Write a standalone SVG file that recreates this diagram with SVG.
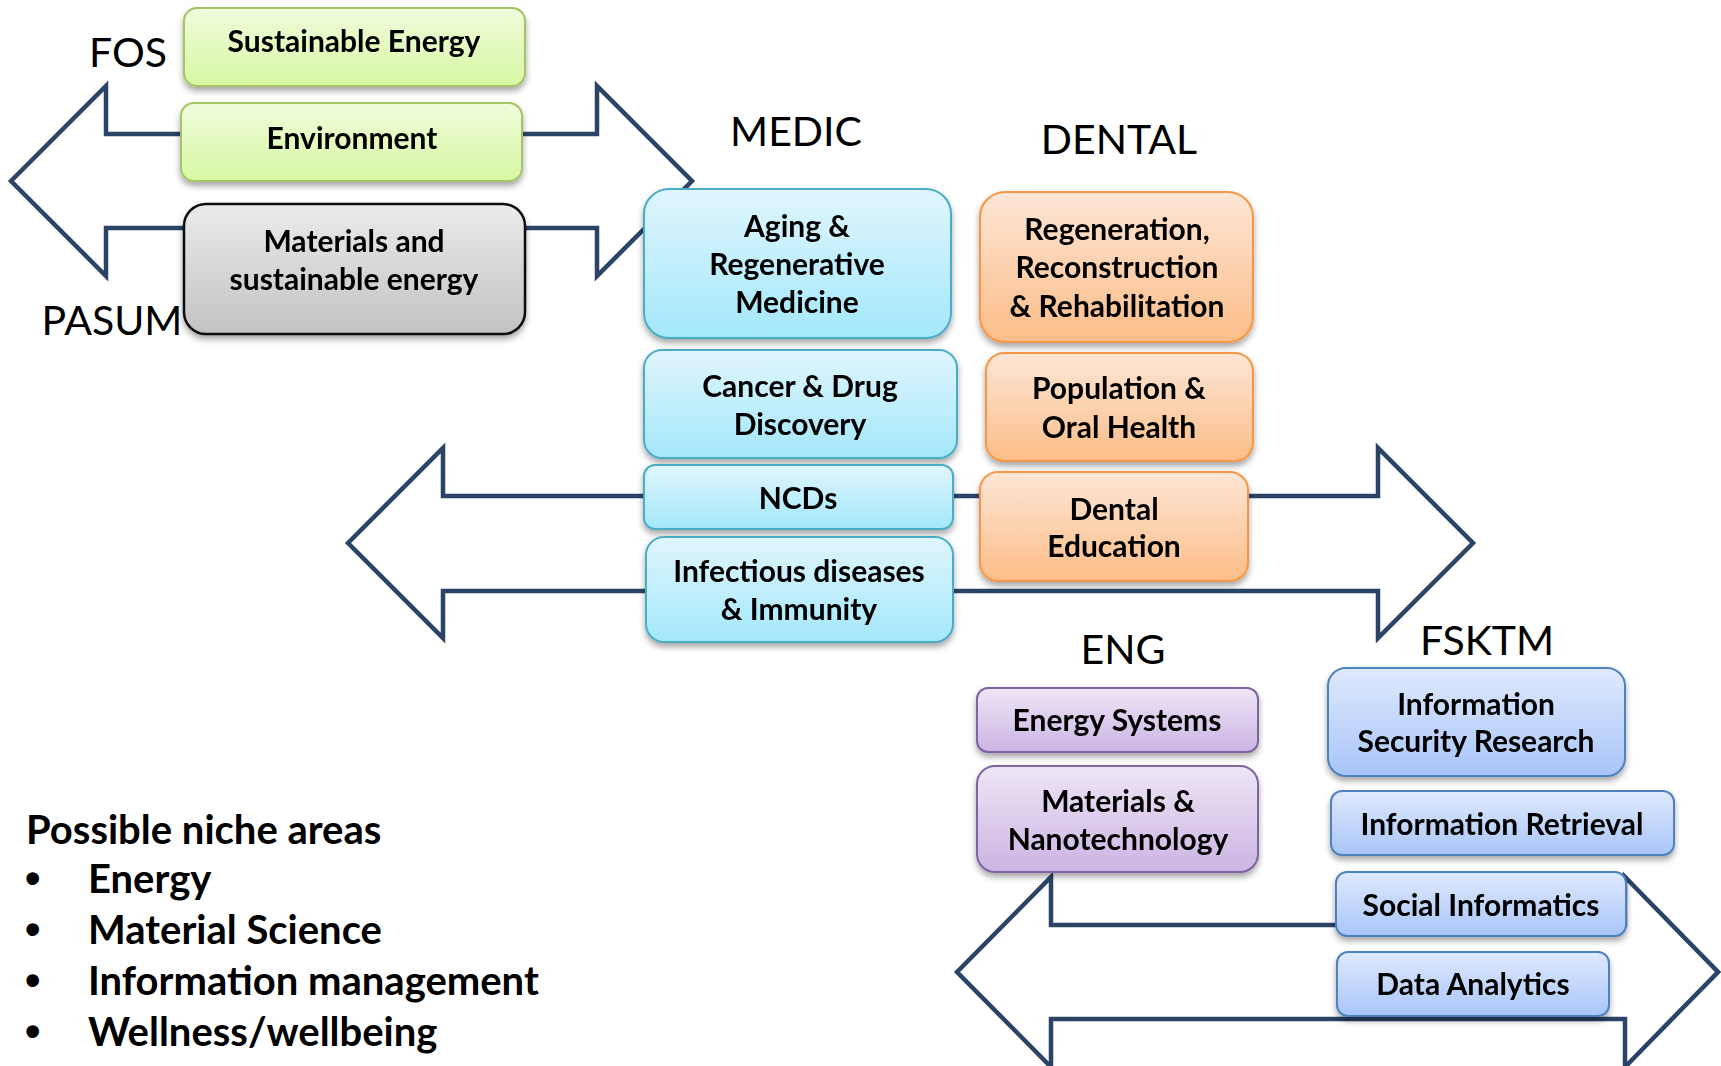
<svg xmlns="http://www.w3.org/2000/svg" width="1721" height="1066" viewBox="0 0 1721 1066">
<defs>
<style>
.t{font-family:Lato,"Open Sans","DejaVu Sans",sans-serif;font-weight:700;font-size:30px;text-anchor:middle;fill:#000}
.lbl{font-family:Lato,"Open Sans","DejaVu Sans",sans-serif;font-weight:400;font-size:41px;text-anchor:middle;fill:#000}
.nic{font-family:Lato,"Open Sans","DejaVu Sans",sans-serif;font-weight:700;font-size:40px;fill:#000}
.bul{font-family:"Liberation Sans",Arial,sans-serif;font-weight:700;font-size:44px;fill:#000}
.arr{fill:#fff;stroke:#2A4366;stroke-width:4.5;stroke-linejoin:miter}
.g{fill:url(#gG);stroke:#A3C566;stroke-width:2}
.k{fill:url(#gK);stroke:#111;stroke-width:2.5}
.c{fill:url(#gC);stroke:#4BACC6;stroke-width:2}
.o{fill:url(#gO);stroke:#F79646;stroke-width:2}
.p{fill:url(#gP);stroke:#8064A2;stroke-width:2}
.b{fill:url(#gB);stroke:#4F81BD;stroke-width:2}
.n{filter:url(#sh)}
</style>
<linearGradient id="gG" x1="0" y1="0" x2="0" y2="1"><stop offset="0" stop-color="#F0FCDC"/><stop offset="1" stop-color="#D7F7A2"/></linearGradient>
<linearGradient id="gK" x1="0" y1="0" x2="0" y2="1"><stop offset="0" stop-color="#EBEBEB"/><stop offset="1" stop-color="#C2C2C2"/></linearGradient>
<linearGradient id="gC" x1="0" y1="0" x2="0" y2="1"><stop offset="0" stop-color="#E0F6FD"/><stop offset="1" stop-color="#A3E7FB"/></linearGradient>
<linearGradient id="gO" x1="0" y1="0" x2="0" y2="1"><stop offset="0" stop-color="#FDE6D5"/><stop offset="1" stop-color="#FBBD88"/></linearGradient>
<linearGradient id="gP" x1="0" y1="0" x2="0" y2="1"><stop offset="0" stop-color="#EEE6F6"/><stop offset="1" stop-color="#CBB4E3"/></linearGradient>
<linearGradient id="gB" x1="0" y1="0" x2="0" y2="1"><stop offset="0" stop-color="#DFE9FD"/><stop offset="1" stop-color="#A8C5F8"/></linearGradient>
<filter id="sh" x="-10%" y="-10%" width="120%" height="140%"><feDropShadow dx="0" dy="4" stdDeviation="3" flood-color="#000" flood-opacity="0.35"/></filter>
</defs>
<rect width="1721" height="1066" fill="#fff"/>

<g id="connectors">
<path class="arr" d="M11,181 L106,86 L106,134 L597,134 L597,86 L692,181 L597,276 L597,228 L106,228 L106,276 Z"/>
<path class="arr" d="M348,543 L443,448 L443,496 L1378,496 L1378,448 L1473,543 L1378,638 L1378,591 L443,591 L443,638 Z"/>
<path class="arr" d="M957,972 L1051,877 L1051,925 L1625,925 L1625,877 L1718,972 L1625,1067 L1625,1019 L1051,1019 L1051,1067 Z"/>
</g>

<g id="labels">
<text class="lbl" x="128" y="67">FOS</text>
<text class="lbl" x="112" y="335">PASUM</text>
<text class="lbl" x="796" y="146">MEDIC</text>
<text class="lbl" x="1119" y="154">DENTAL</text>
<text class="lbl" x="1123" y="664">ENG</text>
<text class="lbl" x="1487" y="655">FSKTM</text>
</g>

<g id="n-sustainable-energy" class="n"><rect class="g" x="184" y="8" width="341" height="78" rx="13"/><text class="t" x="354" y="52">Sustainable Energy</text></g>
<g id="n-environment" class="n"><rect class="g" x="181" y="103" width="341" height="78" rx="13"/><text class="t" x="352" y="149">Environment</text></g>
<g id="n-materials-sustainable" class="n"><rect class="k" x="184" y="204" width="341" height="130" rx="22"/><text class="t" x="354" y="252">Materials and</text><text class="t" x="354" y="290">sustainable energy</text></g>

<g id="n-aging" class="n"><rect class="c" x="644" y="189" width="307" height="149" rx="25"/><text class="t" x="797" y="237">Aging &amp;</text><text class="t" x="797" y="275">Regenerative</text><text class="t" x="797" y="313">Medicine</text></g>
<g id="n-cancer" class="n"><rect class="c" x="644" y="350" width="313" height="108" rx="18"/><text class="t" x="800" y="397">Cancer &amp; Drug</text><text class="t" x="800" y="435">Discovery</text></g>
<g id="n-ncds" class="n"><rect class="c" x="644" y="465" width="309" height="64" rx="11"/><text class="t" x="798" y="509">NCDs</text></g>
<g id="n-infectious" class="n"><rect class="c" x="646" y="537" width="307" height="105" rx="18"/><text class="t" x="799" y="582">Infectious diseases</text><text class="t" x="799" y="620">&amp; Immunity</text></g>

<g id="n-regeneration" class="n"><rect class="o" x="980" y="192" width="273" height="150" rx="25"/><text class="t" x="1117" y="240">Regeneration,</text><text class="t" x="1117" y="278">Reconstruction</text><text class="t" x="1117" y="317">&amp; Rehabilitation</text></g>
<g id="n-population" class="n"><rect class="o" x="986" y="353" width="267" height="108" rx="18"/><text class="t" x="1119" y="399">Population &amp;</text><text class="t" x="1119" y="438">Oral Health</text></g>
<g id="n-dental-education" class="n"><rect class="o" x="980" y="472" width="268" height="109" rx="18"/><text class="t" x="1114" y="520">Dental</text><text class="t" x="1114" y="557">Education</text></g>

<g id="n-energy-systems" class="n"><rect class="p" x="977" y="688" width="281" height="64" rx="11"/><text class="t" x="1117" y="731">Energy Systems</text></g>
<g id="n-materials-nano" class="n"><rect class="p" x="977" y="766" width="281" height="106" rx="18"/><text class="t" x="1118" y="812">Materials &amp;</text><text class="t" x="1118" y="850">Nanotechnology</text></g>

<g id="n-info-security" class="n"><rect class="b" x="1328" y="668" width="297" height="108" rx="18"/><text class="t" x="1476" y="715">Information</text><text class="t" x="1476" y="752">Security Research</text></g>
<g id="n-info-retrieval" class="n"><rect class="b" x="1331" y="791" width="343" height="64" rx="11"/><text class="t" x="1502" y="835">Information Retrieval</text></g>
<g id="n-social-informatics" class="n"><rect class="b" x="1336" y="872" width="290" height="64" rx="11"/><text class="t" x="1481" y="916">Social Informatics</text></g>
<g id="n-data-analytics" class="n"><rect class="b" x="1337" y="952" width="272" height="64" rx="11"/><text class="t" x="1473" y="995">Data Analytics</text></g>

<g id="niche">
<text class="nic" x="26" y="844">Possible niche areas</text>
<text class="bul" x="25" y="893">•</text><text class="nic" x="88" y="893">Energy</text>
<text class="bul" x="25" y="944">•</text><text class="nic" x="88" y="944">Material Science</text>
<text class="bul" x="25" y="995">•</text><text class="nic" x="88" y="995">Information management</text>
<text class="bul" x="25" y="1046">•</text><text class="nic" x="88" y="1046">Wellness/wellbeing</text>
</g>
</svg>
